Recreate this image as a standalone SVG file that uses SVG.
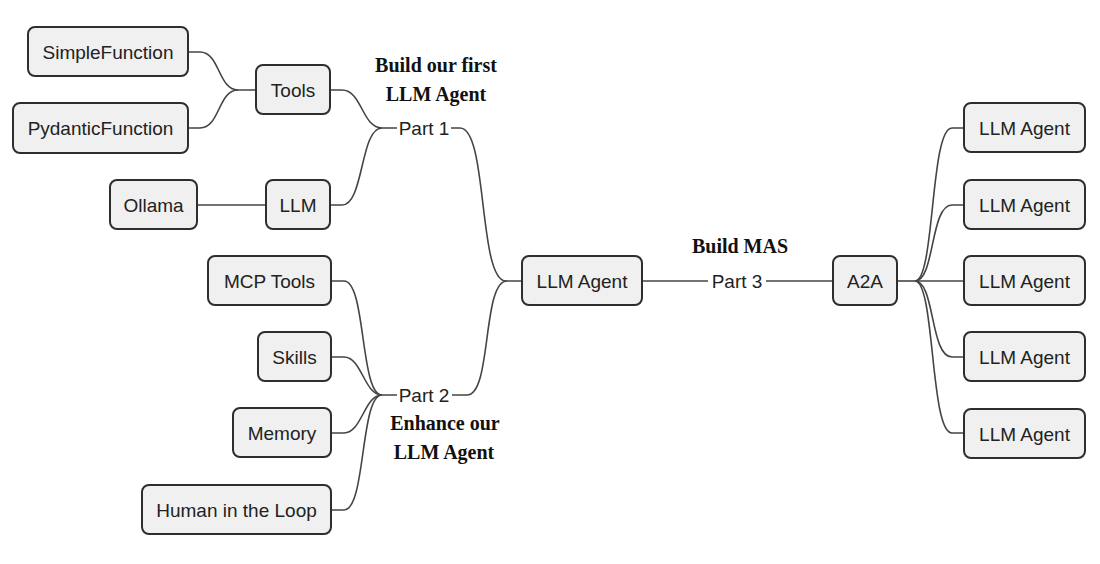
<svg xmlns="http://www.w3.org/2000/svg" width="1100" height="564" viewBox="0 0 1100 564">
<style>
.box{fill:#f0f0f0;stroke:#2e2e2e;stroke-width:2}
.lbl{font-family:"Liberation Sans",Arial,sans-serif;font-size:19px;fill:#222;text-anchor:middle}
.ttl{font-family:"Liberation Serif","Times New Roman",serif;font-size:20px;font-weight:bold;fill:#111;text-anchor:middle}
.con path{fill:none;stroke:#444;stroke-width:1.6}
</style>
<rect width="1100" height="564" fill="#fff"/>
<g class="con" id="connectors">
<path d="M188 52 H200 C220 52 218 90 238 90 H256"/>
<path d="M188 128 H200 C220 128 218 90 238 90"/>
<path d="M330 90 H342 C362 90 362 128 382 128 H397"/>
<path d="M330 205 H342 C364 205 360 128 382 128"/>
<path d="M197 205 H266"/>
<path d="M451 128 H460 C488 128 478 281 506 281 H522"/>
<path d="M331 281 H344 C366 281 360 395 382 395 H397"/>
<path d="M331 357 H344 C362 357 364 395 382 395"/>
<path d="M331 433 H344 C362 433 364 395 382 395"/>
<path d="M331 510 H344 C366 510 360 395 382 395"/>
<path d="M452 395 H467 C492 395 482 281 507 281"/>
<path d="M642 281 H708"/>
<path d="M766 281 H833"/>
<path d="M897 281 H915"/>
<path d="M915 281 C935 281 930 128 952 128 H964"/>
<path d="M915 281 C935 281 930 205 952 205 H964"/>
<path d="M915 281 H964"/>
<path d="M915 281 C935 281 930 357 952 357 H964"/>
<path d="M915 281 C935 281 930 433 952 433 H964"/>
</g>
<g id="n-simplefunction"><rect class="box" x="28" y="27" width="160" height="49" rx="7"/><text class="lbl" x="108" y="59">SimpleFunction</text></g>
<g id="n-pydanticfunction"><rect class="box" x="13" y="103" width="175" height="50" rx="7"/><text class="lbl" x="100.5" y="135">PydanticFunction</text></g>
<g id="n-tools"><rect class="box" x="256" y="65" width="74" height="49" rx="7"/><text class="lbl" x="293" y="97">Tools</text></g>
<g id="n-ollama"><rect class="box" x="110" y="180" width="87" height="49" rx="7"/><text class="lbl" x="153.5" y="212">Ollama</text></g>
<g id="n-llm"><rect class="box" x="266" y="180" width="64" height="49" rx="7"/><text class="lbl" x="298" y="212">LLM</text></g>
<g id="n-part1"><text class="lbl" x="424" y="135">Part 1</text></g>
<g id="t-part1"><text class="ttl" x="436" y="72">Build our first</text><text class="ttl" x="436" y="101">LLM Agent</text></g>
<g id="n-mcptools"><rect class="box" x="208" y="256" width="123" height="49" rx="7"/><text class="lbl" x="269.5" y="288">MCP Tools</text></g>
<g id="n-skills"><rect class="box" x="258" y="332" width="73" height="49" rx="7"/><text class="lbl" x="294.5" y="364">Skills</text></g>
<g id="n-memory"><rect class="box" x="233" y="408" width="98" height="49" rx="7"/><text class="lbl" x="282" y="440">Memory</text></g>
<g id="n-human"><rect class="box" x="142" y="485" width="189" height="49" rx="7"/><text class="lbl" x="236.5" y="517">Human in the Loop</text></g>
<g id="n-part2"><text class="lbl" x="424" y="402">Part 2</text></g>
<g id="t-part2"><text class="ttl" x="445" y="430">Enhance our</text><text class="ttl" x="444" y="459">LLM Agent</text></g>
<g id="n-llmagent"><rect class="box" x="522" y="256" width="120" height="49" rx="7"/><text class="lbl" x="582" y="288">LLM Agent</text></g>
<g id="n-part3"><text class="lbl" x="737" y="288">Part 3</text></g>
<g id="t-part3"><text class="ttl" x="740" y="253">Build MAS</text></g>
<g id="n-a2a"><rect class="box" x="833" y="256" width="64" height="49" rx="7"/><text class="lbl" x="865" y="288">A2A</text></g>
<g id="n-agent1"><rect class="box" x="964" y="103" width="121" height="49" rx="7"/><text class="lbl" x="1024.5" y="135">LLM Agent</text></g>
<g id="n-agent2"><rect class="box" x="964" y="180" width="121" height="49" rx="7"/><text class="lbl" x="1024.5" y="212">LLM Agent</text></g>
<g id="n-agent3"><rect class="box" x="964" y="256" width="121" height="49" rx="7"/><text class="lbl" x="1024.5" y="288">LLM Agent</text></g>
<g id="n-agent4"><rect class="box" x="964" y="332" width="121" height="49" rx="7"/><text class="lbl" x="1024.5" y="364">LLM Agent</text></g>
<g id="n-agent5"><rect class="box" x="964" y="409" width="121" height="49" rx="7"/><text class="lbl" x="1024.5" y="441">LLM Agent</text></g>
</svg>
